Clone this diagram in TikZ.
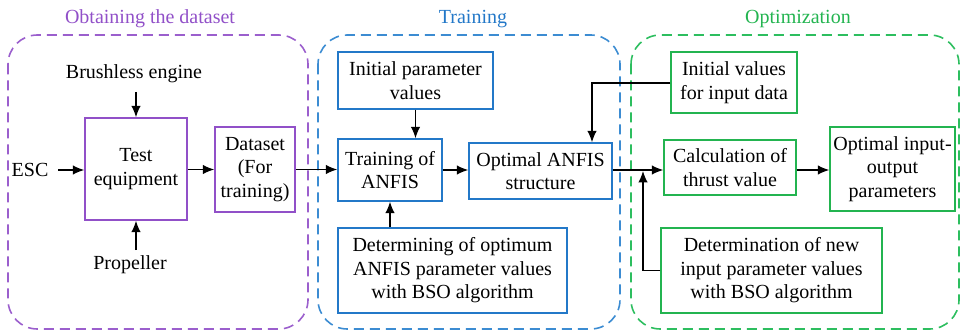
\documentclass[tikz,border=0pt]{standalone}
\usepackage{fontspec}
\setmainfont{Liberation Serif}
\usetikzlibrary{arrows.meta,calc}
\definecolor{cpurple}{RGB}{145,80,200}
\definecolor{cblue}{RGB}{35,120,200}
\definecolor{cgreen}{RGB}{35,180,80}
\definecolor{dpurple}{RGB}{155,95,205}
\definecolor{dblue}{RGB}{60,140,210}
\definecolor{dgreen}{RGB}{45,190,95}
\begin{document}
\begin{tikzpicture}[x=0.75pt,y=-0.75pt,
  every node/.style={font=\fontsize{15}{17.6}\selectfont},
  bx/.style={draw,line width=1.1pt,align=center,inner sep=0pt},
  pbx/.style={bx,draw=cpurple},
  bbx/.style={bx,draw=cblue},
  gbx/.style={bx,draw=cgreen},
  region/.style={line width=1.2pt,rounded corners=22pt,dash pattern=on 7.5pt off 4.5pt},
  arr/.style={line width=0.9pt,-{Latex[length=8.5pt,width=7pt]}},
  ttl/.style={font=\fontsize{15}{18}\selectfont}]
\useasboundingbox (0,0) rectangle (962,331);
% regions
\draw[region,draw=dpurple] (8,35) rectangle (308,329);
\draw[region,draw=dblue] (318,35) rectangle (620,329);
\draw[region,draw=dgreen] (631,35) rectangle (959,329);
\node[ttl,text=cpurple] (t1) at (150,19) {Obtaining the dataset};
\node[ttl,text=cblue] (t2) at (473,19) {Training};
\node[ttl,text=cgreen] (t3) at (798,19) {Optimization};
% stage 1
\node[pbx,minimum width=102*0.75pt,minimum height=102*0.75pt] (test) at (136,169) {Test\\equipment};
\node[pbx,minimum width=80*0.75pt,minimum height=85*0.75pt] (data) at (255,169.5) {Dataset\\(For\\training)};
\node (brush) at (134,74) {Brushless engine};
\node (esc) at (30,170) {ESC};
\node (prop) at (130,265) {Propeller};
\coordinate (bs) at (136,92);
\coordinate (ps) at (136,250);
\coordinate (es) at (58,170);
% stage 2
\node[bbx,minimum width=155*0.75pt,minimum height=57*0.75pt] (initp) at (415.5,80.5) {Initial parameter\\values};
\node[bbx,minimum width=104*0.75pt,minimum height=62*0.75pt] (train) at (390,170) {Training of\\ANFIS};
\node[bbx,minimum width=143*0.75pt,minimum height=56*0.75pt] (optanfis) at (540.5,171) {Optimal ANFIS\\structure};
\node[bbx,minimum width=229*0.75pt,minimum height=85*0.75pt] (detopt) at (452.5,270.5) {Determining of optimum\\ANFIS parameter values\\with BSO algorithm};
% stage 3
\node[gbx,minimum width=126*0.75pt,minimum height=61*0.75pt] (initv) at (734,82.5) {Initial values\\for input data};
\node[gbx,minimum width=132*0.75pt,minimum height=55*0.75pt] (calc) at (730,167.5) {Calculation of\\thrust value};
\node[gbx,minimum width=125*0.75pt,minimum height=84*0.75pt] (optio) at (892.5,169) {Optimal input-\\output\\parameters};
\node[gbx,minimum width=221*0.75pt,minimum height=85*0.75pt] (detnew) at (771.5,270.5) {Determination of new\\input parameter values\\with BSO algorithm};
\coordinate (j) at (643,171);
\coordinate (k) at (592,83);
% arrows
\draw[arr] (bs) -- (test.north);
\draw[arr] (ps) -- (test.south);
\draw[arr] (es) -- (es -| test.west);
\draw[arr] (test.east |- data.west) -- (data.west);
\draw[arr] (data.east) -- (data.east -| train.west);
\draw[arr] (initp.south) -- (initp.south |- train.north);
\draw[arr] (train.south |- detopt.north) -- (train.south);
\draw[arr] (train.east) -- (train.east -| optanfis.west);
\draw[arr] (initv.west |- k) -- (k) -- (k |- optanfis.north);
\draw[arr] (optanfis.east |- train.east) -- (calc.west |- train.east);
\draw[arr] (calc.east |- train.east) -- (optio.west |- train.east);
\draw[arr] (detnew.west) -| (j);
\end{tikzpicture}
\end{document}
